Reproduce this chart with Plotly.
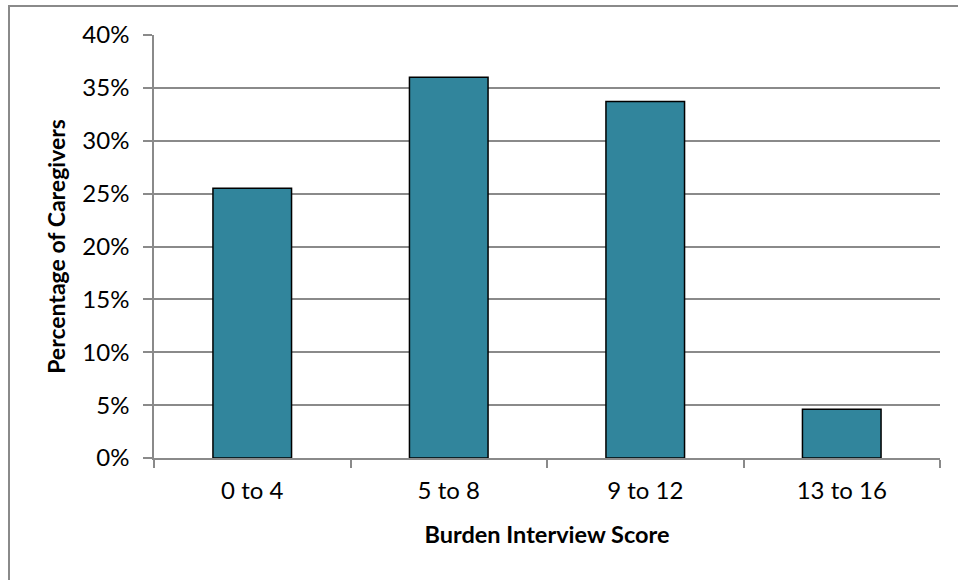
import plotly.graph_objects as go

# Distribution of caregiver burden scores
score_bins = ["0 to 4", "5 to 8", "9 to 12", "13 to 16"]
pct_caregivers = [0.255, 0.360, 0.337, 0.046]

y_ticks = [0.0, 0.05, 0.10, 0.15, 0.20, 0.25, 0.30, 0.35, 0.40]

FONT = "Lato, 'Open Sans', sans-serif"
GRID = "#8a8a8a"

fig = go.Figure(
    go.Bar(
        x=score_bins,
        y=pct_caregivers,
        width=0.4,
        marker=dict(color="#31859c", line=dict(color="#000000", width=1.5)),
        hoverinfo="x+y",
    )
)

W, H = 958, 580
ml, mr, mt, mb = 154, 18, 35, 122
pw, ph = W - ml - mr, H - mt - mb


def px_x(px):
    return (px - ml) / pw


def px_y(py):
    return (H - mb - py) / ph


fig.update_layout(
    width=W,
    height=H,
    margin=dict(l=ml, r=mr, t=mt, b=mb, pad=0),
    paper_bgcolor="white",
    plot_bgcolor="white",
    showlegend=False,
    font=dict(family=FONT, size=24, color="#000000"),
    xaxis=dict(
        title=dict(text="<b>Burden Interview Score</b>", font=dict(size=23.5), standoff=24),
        showline=True,
        linecolor=GRID,
        linewidth=1.5,
        ticks="outside",
        tickson="boundaries",
        ticklen=8,
        tickwidth=1.5,
        tickcolor=GRID,
        showgrid=False,
        ticklabelstandoff=10,
    ),
    yaxis=dict(
        title=dict(text="<b>Percentage of Caregivers</b>", font=dict(size=23), standoff=10),
        range=[0, 0.4],
        tickvals=y_ticks,
        tickformat=".0%",
        showline=True,
        linecolor=GRID,
        linewidth=1.5,
        ticks="outside",
        ticklen=9,
        tickwidth=1.5,
        tickcolor=GRID,
        showgrid=True,
        gridcolor=GRID,
        gridwidth=1.5,
        zeroline=False,
        ticklabelstandoff=9,
    ),
    shapes=[
        dict(
            type="rect",
            xref="paper",
            yref="paper",
            x0=px_x(9),
            x1=px_x(W + 5),
            y0=px_y(H + 5),
            y1=px_y(6),
            line=dict(color=GRID, width=2),
            fillcolor="rgba(0,0,0,0)",
            layer="below",
        )
    ],
)

fig.write_html("out.html")
